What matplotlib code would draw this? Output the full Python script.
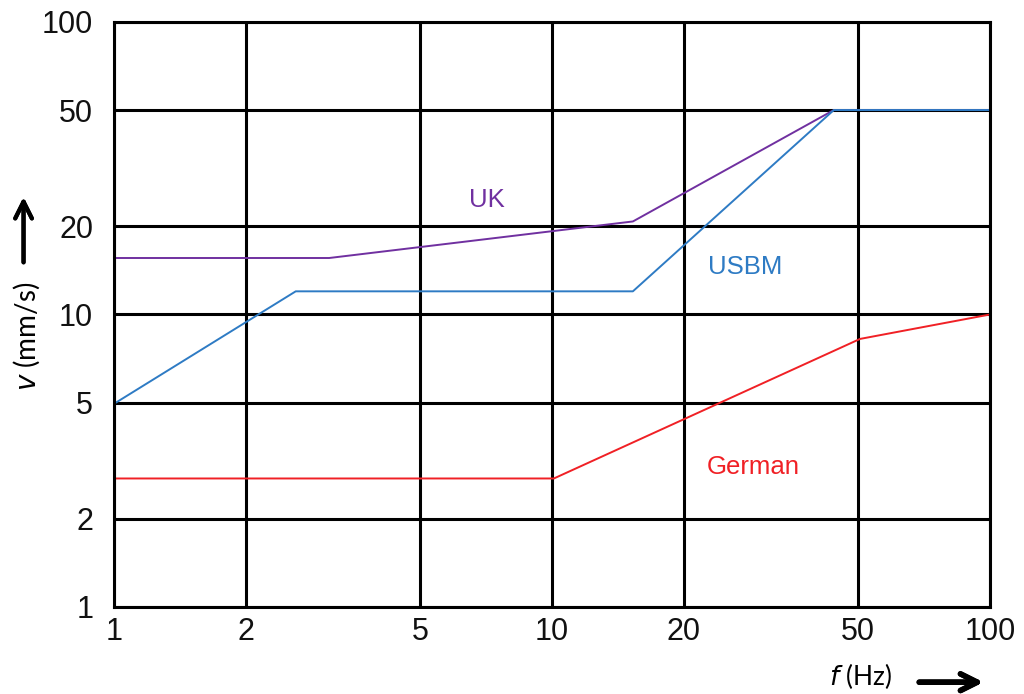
import matplotlib.pyplot as plt

plt.rcParams['font.family'] = ['Liberation Sans', 'DejaVu Sans']

# vibration limits, peak particle velocity (mm/s) vs frequency (Hz)
uk_f = [1, 3.1, 15.3, 44, 100]
uk_v = [15.6, 15.6, 20.8, 50, 50]

usbm_f = [1, 2.6, 15.3, 44, 100]
usbm_v = [4.95, 12.0, 12.0, 50, 50]

german_f = [1, 10.1, 50.5, 100]
german_v = [2.75, 2.75, 8.25, 10]

ticks = [1, 2, 5, 10, 20, 50, 100]
tick_labels = ['1', '2', '5', '10', '20', '50', '100']

fig = plt.figure(figsize=(10.24, 6.94), dpi=100)
ax = fig.add_axes([0.1113, 0.1254, 0.8555, 0.8429])

ax.plot(uk_f, uk_v, color='#7030A0', lw=1.4)
ax.plot(usbm_f, usbm_v, color='#2E7BC4', lw=1.4)
ax.plot(german_f, german_v, color='#F02025', lw=1.4)

ax.set_xscale('log')
ax.set_yscale('log')
ax.set_xlim(1, 100)
ax.set_ylim(1, 100)
ax.set_xticks(ticks)
ax.set_xticklabels(tick_labels)
ax.set_yticks(ticks)
ax.set_yticklabels(tick_labels)
ax.minorticks_off()
ax.tick_params(length=0, labelsize=22, colors='#111111')
ax.tick_params(axis='x', pad=7)
ax.tick_params(axis='y', pad=15)
ax.grid(True, color='black', lw=2.2)
ax.set_axisbelow(True)
for s in ax.spines.values():
    s.set_linewidth(2.2)

ax.text(7.1, 24.6, 'UK', color='#7030A0', fontsize=18.5, ha='center', va='center')
ax.text(27.6, 14.5, 'USBM', color='#2E7BC4', fontsize=18.5, ha='center', va='center')
ax.text(28.8, 3.0, 'German', color='#F02025', fontsize=18.5, ha='center', va='center')

# axis labels with arrows
fig.text(0.026, 0.515, r'$\it{v}$ (mm/s)', rotation=90, ha='center', va='center',
         fontsize=20, family=['Lato', 'DejaVu Sans'])
fig.text(0.84, 0.005, r'$\it{f}$ (Hz)', ha='center', va='bottom',
         fontsize=19, family=['Lato', 'DejaVu Sans'])
fig.add_artist(plt.annotate('', xy=(0.023, 0.72), xytext=(0.023, 0.618),
                            xycoords='figure fraction',
                            arrowprops=dict(arrowstyle='->', lw=3, color='black',
                                            mutation_scale=30)))
fig.add_artist(plt.annotate('', xy=(0.963, 0.017), xytext=(0.895, 0.017),
                            xycoords='figure fraction',
                            arrowprops=dict(arrowstyle='->', lw=4, color='black',
                                            mutation_scale=30)))

fig.savefig('out.png', dpi=100)
